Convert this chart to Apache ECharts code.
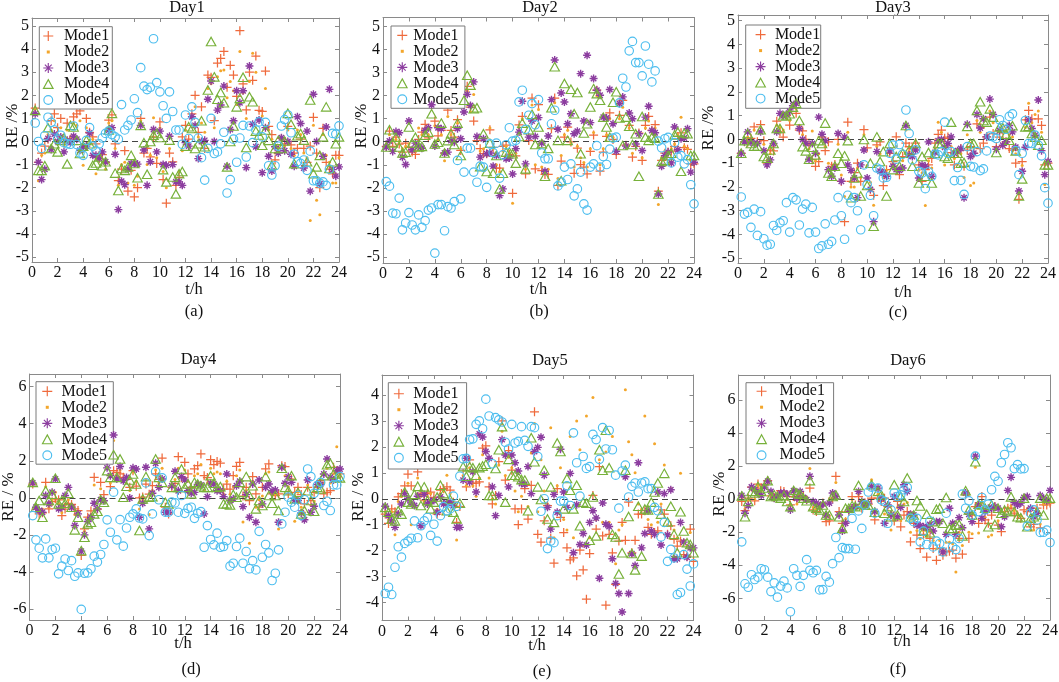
<!DOCTYPE html>
<html><head><meta charset="utf-8">
<script src="https://cdn.jsdelivr.net/npm/echarts@6/dist/echarts.min.js"></script>
<style>html,body{margin:0;padding:0;background:#fff}#c{width:1059px;height:682px}</style>
</head><body><div id="c"></div>
<script>
// ---------- data ----------
const modeNames = ['Mode1','Mode2','Mode3','Mode4','Mode5'];
const dayTitles = ['Day1','Day2','Day3','Day4','Day5','Day6'];
const captionLabels = ['(a)','(b)','(c)','(d)','(e)','(f)'];
const yLabelTexts = ['RE /%','RE /%','RE /%','RE / %','RE / %','RE /%'];
const yTicksFive = [-5,-4,-3,-2,-1,0,1,2,3,4,5];
const yTicksSix = [-6,-4,-2,0,2,4,6];
const yTicksFour = [-4,-3,-2,-1,0,1,2,3,4];
const hours = [];
for (let k = 1; k <= 96; k++) hours.push(k / 4);   // 15-min sampling, t/h

const d1m1 = [1.45,-0.9,-0.5,-0.2,0.1,0.9,1.2,0.6,1.0,-0.05,0.8,0.1,1.07,1.2,1.33,-0.3,1.0,0.4,0.2,-0.1,-0.75,-0.57,-0.9,0.93,1.15,-0.1,-1.7,-1.2,-0.4,-2.15,-1.25,-2.4,-2.0,1.0,-0.5,-0.3,-0.67,0.2,-0.95,0.85,-1.65,-2.67,-0.5,-0.88,-1.9,-1.55,0.2,0.7,0.1,1.2,2.0,0.4,1.5,-0.3,2.88,2.78,0.9,3.4,3.6,3.9,2.35,3.3,2.88,1.95,4.8,2.5,1.37,3.0,2.65,3.7,1.35,1.3,3.05,0.65,0.3,-0.8,-0.3,0.13,-0.1,0.65,-0.15,-0.5,-0.3,0.1,-0.3,-0.9,-0.2,1.05,-0.5,-2.0,0.57,-0.9,-1.2,-1.4,-0.6,-0.6];
const d1m2 = [1.4,-1.7,-0.6,-0.5,0.3,0.5,0.9,0.3,0.6,-0.2,0.5,0.2,0.8,0.7,0.9,-1.03,0.6,0.3,0.1,-1.4,-0.6,-0.5,-1.2,0.8,0.9,-0.3,-1.9,-1.0,-0.9,-1.8,-1.0,-1.9,-1.5,0.9,-0.4,-1.0,-0.6,1.03,-0.7,0.6,-1.3,-2.0,-0.3,-0.9,-1.7,-1.3,-0.4,0.5,-0.1,1.0,1.5,0.2,0.8,0.4,2.3,2.5,0.6,2.8,3.07,3.1,1.9,2.6,2.2,1.6,3.9,2.1,1.0,2.6,3.82,3.0,1.0,1.1,2.3,0.5,0.1,-0.5,-0.3,0.2,-0.2,0.5,-0.3,-0.6,0.5,0.3,-0.5,-0.7,-3.42,0.7,-2.55,-3.17,0.3,-0.6,-0.9,-1.8,-1.8,-0.7];
const d1m3 = [1.2,-0.9,-1.65,-1.2,0.13,-0.35,0.32,0.0,0.2,-0.45,0.05,-0.05,0.23,0.1,-0.38,-0.23,-0.2,0.37,-0.6,-0.6,-0.73,-0.45,-0.88,0.5,0.6,-0.55,-2.95,-1.72,-1.87,-1.2,-0.95,-0.95,-0.98,0.7,-0.37,-1.9,-0.88,0.52,-0.45,0.45,-1.0,-1.03,0.23,-1.0,-1.75,-1.75,-1.9,-0.05,-0.2,1.07,0.7,-0.74,0.0,0.05,1.83,2.62,0.0,1.36,1.58,2.4,-1.07,0.52,0.9,2.2,1.68,2.2,-1.13,3.27,0.75,-0.23,0.93,-1.35,0.6,-0.64,-1.28,-0.23,-0.5,0.16,-0.4,0.0,-0.55,-1.07,1.07,0.78,-1.15,0.45,-2.15,2.05,0.0,-1.83,-0.64,0.63,2.26,-1.22,-1.5,-1.1];
const d1m4 = [1.35,-1.25,-1.25,-1.05,0.6,-0.3,-0.1,-0.45,0.05,0.15,-0.97,0.7,0.63,0.05,-0.52,-0.2,0.05,-0.1,-1.03,-0.93,-0.67,-1.05,-0.88,0.5,1.22,-1.37,-2.12,-1.17,-1.25,-1.1,-0.6,-0.95,-1.57,0.7,-0.05,-1.42,0.0,0.27,0.35,0.17,-1.22,-1.75,0.06,-1.54,-2.27,-1.4,-1.3,-0.2,0.64,0.56,-0.3,-0.1,0.9,-0.23,2.23,4.33,2.8,1.83,2.12,1.68,-1.1,0.0,0.67,1.5,1.87,2.78,-0.26,1.94,1.72,0.45,0.28,-0.16,0.5,0.05,-1.03,-0.3,0.05,-0.3,0.02,1.22,0.75,-0.96,0.25,0.35,0.06,-0.88,1.8,-1.4,-1.1,-0.6,0.2,1.5,-1.17,-0.88,-0.1,0.2];
const d1m5 = [0.8,0.0,-0.3,0.25,1.05,0.83,0.5,0.1,0.27,-0.05,-0.1,-0.12,0.67,-0.13,-0.5,-0.6,0.05,0.6,-0.2,-0.4,-0.1,0.15,0.35,0.45,0.3,0.2,0.1,1.6,0.5,0.7,0.93,1.85,1.25,3.2,2.4,2.25,2.35,4.45,2.55,2.15,1.55,1.0,2.15,1.3,0.5,0.5,-0.12,1.15,0.13,1.5,0.83,0.15,-0.7,-1.67,-0.3,1.0,-0.52,-0.45,-0.1,0.4,-2.23,-1.65,0.1,-0.9,0.15,0.7,-0.67,0.67,-0.05,0.5,0.85,0.2,0.83,-1.05,-1.45,-1.05,-0.2,0.67,0.95,1.15,0.38,-0.55,-0.87,-0.95,-0.8,-1.25,-0.42,-1.7,-1.7,-1.8,-1.75,-1.9,-1.2,0.35,0.32,0.68];

const d2m1 = [-0.2,0.46,-0.2,0.2,-0.1,-0.45,-0.06,-0.25,-0.45,-0.55,0.1,0.42,0.76,0.17,1.83,0.9,0.25,0.49,-0.49,1.37,0.49,0.2,0.96,-0.38,2.24,2.41,1.51,0.9,0.05,-0.3,-0.52,-0.52,0.52,-0.25,-1.15,-1.15,-0.2,-0.15,-0.55,-2.24,-0.61,0.73,1.1,-1.4,0.05,1.9,-1.18,1.61,-1.25,-1.42,-1.42,0.57,1.9,-1.9,-0.84,0.2,0.64,-0.01,-1.37,-0.28,-0.99,-1.1,-1.4,-0.42,0.29,2.24,-1.28,-0.45,0.23,1.25,0.1,-0.55,1.15,1.8,-0.15,0.71,-0.67,-0.2,0.38,-0.81,0.71,1.1,0.49,0.74,-2.15,-0.81,-0.5,-0.45,-0.41,-0.2,0.23,0.39,-0.26,-0.33,-0.96,-0.96];
const d2m2 = [-0.1,0.3,0.1,0.1,0.0,-0.3,-0.2,-0.1,-0.3,-0.4,0.6,0.3,0.6,0.3,1.5,0.7,0.1,0.3,-0.83,1.1,0.3,0.1,0.8,-0.3,2.0,2.2,1.3,2.05,0.2,-0.4,-0.3,-0.6,0.6,-0.3,-1.0,-1.3,-0.4,-0.2,-0.5,-2.67,-0.5,0.6,1.0,-1.2,0.2,1.6,-1.0,1.4,-1.1,-1.3,-1.2,0.6,1.7,-1.6,-0.6,0.3,0.5,-0.1,-1.1,-0.2,-0.7,-0.9,-1.1,-0.3,0.4,2.0,-1.0,-0.3,0.3,1.0,0.2,-0.4,1.0,1.5,-0.1,0.6,-0.5,-0.1,0.3,-0.7,0.6,0.9,0.4,0.6,-2.73,-0.7,-0.4,-0.4,-0.3,-0.1,0.3,1.07,-0.2,-0.3,-0.8,-0.8];
const d2m3 = [-0.23,0.03,-0.42,0.44,0.39,-0.67,-0.99,0.9,-0.35,-0.06,-0.2,-0.28,0.49,0.61,1.61,-0.19,0.61,0.57,-0.49,-0.45,0.05,-0.02,0.57,0.13,1.29,2.06,1.58,2.6,0.23,-0.67,0.13,-0.52,-0.49,-1.06,-0.6,-2.34,-2.05,-0.74,-0.71,-1.4,-0.3,0.42,1.76,-0.96,0.2,0.9,0.23,1.05,-0.06,-1.28,0.25,1.83,3.55,0.54,2.12,1.73,0.78,1.22,0.35,0.46,2.96,0.9,3.76,0.83,2.75,2.24,2.02,1.07,1.03,2.27,0.78,-0.41,1.66,1.95,-0.19,1.25,1.0,-0.1,0.35,-0.38,1.07,1.54,0.49,0.39,-2.27,-1.07,-0.61,-0.45,-0.92,0.64,-0.35,0.13,0.16,0.57,-1.32,-0.89];
const d2m4 = [-0.23,0.52,-0.05,0.2,-0.23,-0.49,-0.45,0.64,-0.05,0.2,-0.23,-0.2,0.28,0.42,1.22,-0.1,-0.02,0.81,-0.49,0.05,0.35,-0.12,0.81,-0.6,1.8,2.89,2.46,1.44,1.48,-1.08,0.35,-1.29,-0.06,-1.37,-0.6,-2.05,-1.37,-0.45,-0.45,-0.52,-0.93,0.23,0.81,-1.18,0.52,1.19,-0.12,0.64,-0.08,-1.5,-0.29,1.48,3.26,0.06,-1.69,2.53,0.06,2.28,1.22,2.14,-0.52,0.38,0.78,1.51,2.31,2.09,1.8,1.07,0.64,0.2,1.72,2.17,1.03,-0.16,1.07,0.67,-0.12,0.35,-1.5,1.1,0.2,0.06,0.2,0.15,-2.27,-0.86,-0.81,-0.6,-0.5,0.3,0.42,-1.28,0.38,0.35,-0.6,-0.6];
const d2m5 = [-1.73,-1.93,-3.1,-3.13,-2.45,-3.83,-3.53,-3.08,-3.62,-3.83,-3.18,-3.72,-3.43,-2.97,-2.88,-4.84,-2.73,-2.73,-3.87,-2.82,-2.88,-2.6,-0.81,-2.48,-1.32,-0.28,-0.28,-1.32,-1.76,-1.06,-1.1,-1.98,-0.09,-0.47,-0.06,-1.58,-0.57,-0.13,0.61,0.03,0.06,1.73,2.24,0.54,1.15,1.66,0.74,1.83,-0.49,-0.74,-0.74,0.78,1.37,-1.92,-1.76,-1.1,-1.64,-0.96,-2.35,-2.05,-1.32,-2.7,-2.97,-1.1,-0.96,-0.17,-1.1,-0.64,-0.99,-0.32,0.16,0.2,1.69,2.76,2.38,3.95,4.36,3.44,3.44,2.86,4.16,3.37,2.6,3.08,0.03,-0.26,0.13,0.19,-0.92,-0.04,-0.67,-0.6,-0.96,-0.78,-1.87,-2.7];

const d3m1 = [-0.58,-0.1,-0.12,0.05,0.53,-0.1,0.62,-0.05,-1.0,-0.45,-0.48,0.77,0.32,0.1,1.0,0.6,1.63,1.1,0.39,0.36,0.0,-0.23,-0.85,-1.13,-0.93,0.1,-0.47,-0.1,-1.13,-1.05,0.0,-1.76,-3.46,0.73,-1.76,-1.4,-1.0,-1.76,0.41,-0.35,-2.1,-2.35,-0.23,-0.1,-1.94,-1.27,-0.58,-0.93,0.11,-1.48,-0.72,-0.15,-0.3,-0.38,-0.15,-1.07,-1.76,-1.27,-1.07,-0.8,-0.15,0.21,0.39,0.05,0.1,-0.55,-1.07,-0.58,-0.38,-1.13,-0.45,-0.3,-0.58,0.66,-0.38,-0.15,0.11,0.94,0.25,-0.3,0.1,0.39,-0.1,-0.38,-0.45,-1.0,-2.52,-0.93,0.83,1.22,0.87,0.1,0.87,0.59,-1.07,-1.0];
const d3m2 = [-0.5,-0.1,0.1,0.0,0.4,-0.1,0.5,-0.2,-0.9,-0.6,-0.3,0.6,0.5,0.4,0.9,0.8,1.4,1.3,0.6,0.2,-0.1,-0.4,0.36,-0.9,-0.6,0.1,-0.3,-1.0,-1.2,-1.1,-0.2,-1.5,-2.4,0.3,-2.0,-2.0,-1.2,-1.6,0.2,-1.1,-1.8,-2.77,-0.3,-0.6,-1.6,-1.3,-0.5,-1.0,-0.3,-1.2,-0.9,0.4,-0.5,-0.6,-0.3,-1.3,-1.4,-2.78,-0.9,-1.2,-0.4,0.73,0.3,-1.07,-0.2,-0.3,-0.8,-0.5,-0.6,-1.6,0.2,-1.94,-1.83,0.8,0.3,0.5,0.2,1.2,0.7,-0.4,0.3,0.3,-0.2,0.2,0.1,-0.6,-2.3,-1.1,0.5,1.52,0.7,1.05,1.2,0.3,-1.9,-1.0];
const d3m3 = [-0.58,-0.1,0.32,-0.12,-0.17,-0.17,0.32,-0.47,-1.07,-0.86,-0.17,0.32,1.1,1.0,1.05,1.19,1.42,1.52,0.46,0.0,-0.17,-0.83,-0.17,-0.58,0.94,0.22,-0.05,-1.27,-1.55,-1.2,0.25,-1.76,0.1,-1.07,-1.3,-1.62,-2.45,-1.07,-0.44,-1.62,-2.1,-3.46,-0.51,-1.34,-1.41,-1.55,-0.48,-1.13,-1.27,-1.3,-1.2,0.59,-0.65,-0.72,-0.44,-1.62,-1.07,-1.13,-0.1,-1.55,-0.55,-0.05,0.0,-0.33,-0.17,0.11,-0.58,-0.47,-0.38,-2.45,0.64,-0.72,-0.58,1.05,0.48,0.87,0.11,1.7,1.05,-0.41,0.38,-0.24,-0.1,0.59,0.32,-0.33,-2.17,-1.34,-0.33,0.83,0.46,0.18,1.66,-0.47,-1.48,-0.93];
const d3m4 = [-0.58,-0.05,0.25,-0.17,-0.28,-0.28,0.41,-0.72,-0.79,-0.44,-0.17,0.46,0.46,1.0,1.0,1.08,1.36,1.52,0.8,-0.3,-0.48,-0.83,-0.33,-0.65,-0.05,-0.17,0.69,-1.41,-1.55,-1.13,-0.58,-1.0,-0.69,-0.05,-2.45,-1.62,-1.41,-2.38,0.0,-1.94,-1.0,-3.65,0.11,-0.93,-0.51,-2.38,-0.17,-1.27,-0.72,-1.13,-0.58,0.59,-0.44,-1.13,-0.17,-1.83,-0.72,-1.55,-0.55,-1.83,-0.58,-0.17,-0.17,-0.72,-0.79,0.73,-0.58,-0.58,-1.0,-0.97,0.55,-0.17,-0.17,1.22,1.59,0.8,0.73,1.29,0.94,-0.55,0.53,0.49,0.22,-0.03,0.58,-0.48,-2.38,-1.66,0.53,0.55,0.25,0.1,-0.24,-0.03,-1.07,-1.07];
const d3m5 = [-2.42,-3.14,-3.07,-3.7,-2.93,-4.04,-3.04,-4.18,-4.45,-4.41,-3.62,-3.83,-3.51,-3.42,-2.66,-3.9,-2.45,-2.54,-3.6,-2.93,-2.72,-3.93,-2.86,-3.9,-4.59,-4.48,-3.55,-4.41,-4.29,-3.39,-2.45,-3.21,-4.2,-2.35,-2.66,-2.45,-3.0,-3.8,-1.07,-1.9,-2.35,-3.21,-1.2,-1.27,-1.62,-1.59,-0.58,-0.24,-0.83,-0.21,-0.62,1.24,0.25,-0.86,-0.44,-1.34,-1.41,-2.07,-1.37,-1.55,-0.62,-0.65,-0.51,0.73,-0.58,-0.51,-1.73,-1.18,-1.72,-2.31,-0.3,-1.13,-1.16,-0.51,-1.31,-1.24,-0.48,0.14,0.11,0.04,0.83,0.59,0.43,0.97,1.08,-0.47,-1.48,-0.58,0.8,-0.17,-0.17,0.18,-0.24,-0.69,-2.03,-2.68];

const d4m1 = [0.75,-0.6,-0.86,-0.8,0.84,-0.59,-0.2,-0.05,-0.1,-0.95,-0.6,-0.3,-0.35,-0.59,-0.68,-3.1,-1.67,-1.04,-0.7,1.11,-0.6,0.84,0.18,2.1,0.61,1.47,1.38,1.3,1.11,1.0,0.57,1.47,0.63,0.0,0.05,0.75,0.2,0.66,1.29,1.0,2.15,-0.5,-0.86,0.57,0.79,2.22,1.1,1.92,1.29,0.57,1.56,1.74,2.37,1.2,1.1,2.06,1.79,1.97,1.88,0.48,0.75,0.48,1.2,1.7,1.92,0.1,0.57,-0.15,1.15,0.22,-0.5,0.57,1.56,1.83,0.22,0.12,0.22,1.74,1.69,0.22,1.02,0.3,0.57,0.18,-0.32,0.57,-0.15,0.3,0.57,0.93,0.22,0.3,0.39,1.65,1.47,1.29];
const d4m2 = [0.7,-0.5,-0.7,-0.6,0.6,-0.5,-0.1,0.3,-0.3,-0.8,-0.4,-0.1,-0.4,-0.9,-0.8,-2.9,-1.8,-1.1,-0.9,0.7,-0.6,0.5,-0.1,2.0,0.8,3.09,1.2,1.5,1.0,1.0,0.4,1.4,0.9,-0.6,-0.1,1.0,-0.9,0.4,1.5,0.8,1.6,-0.6,-0.8,0.6,1.0,1.6,1.2,1.5,0.9,0.4,1.2,1.3,1.8,0.4,0.8,1.6,1.3,1.4,1.3,0.2,0.9,0.2,0.6,1.2,1.5,-1.3,0.4,-2.44,0.9,-0.5,-0.1,0.1,1.3,1.4,0.3,0.2,-1.67,1.7,1.2,0.6,1.0,-1.26,0.3,-0.5,-0.8,0.7,-0.4,-0.2,0.6,0.8,0.8,1.6,0.8,1.3,2.76,1.4];
const d4m3 = [0.81,-0.5,-0.68,-0.77,0.13,-0.32,0.31,1.02,-0.59,-0.5,0.13,0.57,-0.5,-1.49,-0.86,-2.87,-1.99,-1.27,-1.04,-0.29,-0.59,-0.1,-0.15,1.62,1.2,3.39,1.02,1.69,0.93,1.1,0.0,1.62,1.56,-1.04,-0.29,1.65,-1.67,0.25,1.87,0.57,1.02,-0.77,-0.77,0.65,1.44,0.39,1.15,0.97,0.39,0.25,0.3,0.72,0.7,-0.86,0.07,0.79,0.75,0.39,0.4,0.07,1.29,-0.14,-0.05,0.66,0.9,-0.47,0.18,-1.04,0.75,-1.31,0.97,-0.32,0.57,0.75,0.39,0.43,-1.31,1.65,0.79,1.15,0.84,-0.14,-0.14,-0.81,-1.18,0.97,-0.77,-0.45,0.72,0.72,1.29,2.1,1.11,0.97,1.47,1.56];
const d4m4 = [0.84,-0.5,-0.14,-1.04,0.39,-0.14,0.2,1.06,-0.32,-0.14,-0.29,0.25,-0.5,-1.72,-1.04,-2.84,-2.12,-1.4,-1.31,-0.86,-0.72,-0.1,-0.23,1.47,1.11,2.33,1.11,2.1,0.04,0.63,0.97,1.29,0.75,-1.76,-0.05,1.15,0.04,0.07,2.1,1.11,0.84,-0.23,-0.32,0.57,1.11,0.57,1.56,0.57,0.75,0.22,0.84,0.75,0.66,0.57,0.57,1.2,0.79,0.57,0.61,-0.32,-0.32,-0.38,0.18,0.04,0.84,0.3,1.15,0.13,0.66,-0.59,-0.14,-0.41,1.15,0.13,-0.29,0.13,-0.68,1.6,0.57,0.39,1.2,-0.05,0.3,-0.86,-0.68,0.39,-0.14,-0.72,0.57,0.48,1.2,1.79,1.87,1.29,1.11,1.08];
const d4m5 = [-0.95,-2.26,-2.71,-3.23,-2.21,-3.23,-2.78,-2.71,-4.09,-3.68,-3.29,-3.91,-3.38,-4.22,-4.04,-6.01,-4.06,-4.04,-3.82,-3.14,-3.46,-3.05,-2.51,-1.18,-1.85,0.31,-2.26,-1.17,-2.6,-1.62,-1.04,-0.86,-0.59,-1.08,-1.13,0.81,-2.03,-0.86,1.42,-0.1,1.08,-0.77,-0.77,-0.23,-0.27,-0.77,0.13,-0.83,-0.56,-0.5,-1.1,-0.83,-0.74,-2.66,-1.49,-2.24,-2.53,-1.9,-2.66,-2.62,-2.3,-3.68,-3.52,-2.62,-2.17,-3.52,-2.89,-3.82,-3.38,-3.88,-1.8,-3.2,-2.51,-2.96,-4.45,-4.06,-2.8,-1.4,-0.77,0.04,-0.23,-0.5,0.13,-0.95,-0.1,1.56,1.15,0.25,0.66,0.84,-0.41,-0.18,-0.68,0.7,0.7,1.15];

const d5m1 = [-0.59,-0.95,-0.39,-0.5,0.07,0.2,0.5,0.95,0.5,1.56,1.04,0.22,-0.05,0.2,0.26,0.05,-0.59,0.33,0.39,0.46,0.33,-0.13,-0.91,-0.3,1.17,0.46,1.5,0.59,0.6,0.65,1.95,2.04,0.46,-0.2,0.13,1.43,3.0,0.72,1.86,1.1,-0.39,-1.0,-0.39,0.39,-0.78,0.52,3.35,-1.37,-1.67,-0.85,-0.26,-1.52,-2.48,0.39,-0.72,-1.3,-1.89,-2.35,-2.28,-2.97,-1.98,-2.74,-3.87,-2.11,0.13,-1.17,1.24,-1.43,-4.1,-1.37,-2.08,-3.3,-1.63,-0.91,-1.6,-0.13,-2.08,-1.6,-0.59,-0.59,-0.46,-1.1,-1.37,-1.3,-1.24,-0.43,-0.59,-1.37,-1.04,-1.56,-1.82,-1.63,-2.15,-2.21,-1.17,-2.41];
const d5m2 = [-0.5,-0.8,-0.5,-1.39,-0.1,0.1,0.3,0.6,-1.0,1.2,0.8,0.1,-0.1,0.1,0.2,0.0,-0.4,0.2,0.3,0.91,0.2,-0.2,-1.59,-0.3,0.9,0.5,1.2,0.5,0.1,0.8,1.7,1.8,0.8,0.0,-0.2,1.3,2.6,0.9,1.6,1.2,0.3,-0.5,0.1,0.5,-0.3,1.76,2.9,-0.5,1.5,0.3,-0.2,2.74,-1.5,0.5,1.2,-0.8,-1.2,2.4,-1.5,3.0,1.89,-1.8,3.19,-1.5,3.9,-0.8,1.5,-0.9,1.8,-0.9,2.4,-2.5,-1.2,-1.0,4.2,2.2,1.7,1.0,-0.2,-0.4,3.19,-0.8,-1.0,2.12,-0.9,-0.2,1.3,-1.0,0.4,-1.2,-1.5,0.98,-1.6,-1.8,-1.3,-1.9];
const d5m3 = [-0.29,-0.65,-0.85,-1.1,-0.59,-0.2,0.2,0.0,-0.16,-0.26,0.1,-1.04,0.17,-0.2,-0.1,-0.07,-0.52,0.07,-0.2,-0.16,-0.13,-0.26,-1.1,-1.1,0.72,1.56,0.65,1.04,0.26,2.5,2.38,1.82,1.56,0.46,-0.65,0.13,2.28,1.69,0.46,1.69,1.39,1.07,0.59,0.56,1.24,0.2,1.82,1.98,2.37,0.91,-0.33,-1.17,0.17,-0.52,1.91,0.26,-0.33,0.98,-2.08,-0.23,-1.76,-1.34,-1.78,-0.91,-0.46,-0.74,-3.06,-0.16,-0.98,-1.07,-2.31,-3.26,-3.65,-4.36,0.85,-3.65,-2.12,-2.57,1.39,-1.89,-1.34,-0.46,-1.24,-1.37,0.26,-1.78,0.2,-1.39,0.35,-2.31,-2.31,-0.91,-1.67,-2.25,-1.89,-1.89];
const d5m4 = [-0.33,-0.52,-0.78,-0.85,-0.46,-0.59,0.26,-0.13,-0.2,0.17,0.48,-0.26,0.46,-0.07,-0.39,-0.13,0.07,0.52,0.2,-0.46,-0.03,-0.52,-0.78,-0.17,1.24,0.87,1.24,1.2,0.91,1.2,1.26,1.33,0.13,0.13,1.17,1.89,2.78,-0.13,1.52,0.91,0.91,0.85,0.74,0.72,-0.46,2.35,1.43,0.46,-0.03,1.1,-0.78,0.46,-0.91,2.15,1.82,-0.39,0.78,0.33,-0.39,0.52,-1.04,-0.13,-0.17,-1.6,0.07,-1.43,1.89,1.1,2.64,1.2,-1.37,-1.47,-2.9,-2.08,1.1,-0.68,-2.11,-2.74,-0.29,-2.21,-0.39,-0.43,-0.13,0.26,0.61,-0.59,0.98,-0.89,-0.29,-1.37,-2.08,-0.5,-1.24,-1.69,-1.76,-2.08];
const d5m5 = [-3.65,-3.41,-3.69,-2.64,-1.85,-2.25,-1.72,-1.63,-1.52,-0.85,-1.5,-1.04,-0.85,-0.72,-1.41,-0.98,-1.63,-0.65,-0.3,-0.46,-0.39,0.1,-0.29,0.87,1.54,1.56,2.28,2.31,2.87,3.0,2.7,3.84,3.19,1.35,3.13,3.04,2.96,2.18,1.92,2.87,2.15,2.21,2.78,2.25,2.02,2.78,2.74,1.63,-0.48,0.0,-1.92,-1.63,-1.69,-0.65,-0.09,-0.09,0.5,-0.26,2.54,1.39,0.1,1.63,1.17,1.24,2.48,2.28,1.52,2.74,1.92,2.63,1.89,0.91,-0.36,1.07,1.3,0.07,0.48,0.61,0.26,0.61,0.65,0.39,0.39,-0.33,-0.46,-1.47,-0.91,-2.41,-1.95,-2.28,-3.69,-3.61,-2.15,-2.71,-3.36,-2.51];

const d6m1 = [-0.14,-0.7,0.06,0.73,-0.1,0.91,0.67,0.87,1.12,0.2,0.1,0.26,0.51,0.47,0.16,-0.35,0.16,-0.04,0.22,0.16,-0.04,0.67,-0.65,-0.75,-0.45,-0.24,-1.36,-1.32,0.06,1.38,-0.75,-1.46,-1.36,-0.75,0.16,-0.35,0.16,-0.55,-0.24,-0.3,0.06,-1.26,0.06,-0.14,0.06,-0.45,-0.96,-1.32,-0.14,-1.67,-0.96,-0.75,-2.58,-1.46,-2.17,-2.99,-2.13,-3.5,-2.38,-2.99,-3.7,-2.99,-3.39,-3.19,-3.15,-3.09,-3.56,-2.38,-3.33,0.26,-2.38,-0.96,-0.45,-1.46,0.16,-1.26,-1.46,-0.96,-0.45,-1.57,-1.97,-0.75,-0.55,-0.55,-0.85,-0.96,-1.16,-0.65,-0.75,-1.67,-1.53,-0.55,-1.73,-0.35,-0.35,-0.24];
const d6m2 = [0.1,-0.6,-0.1,0.6,0.0,0.8,0.5,0.7,1.0,0.3,0.1,0.2,0.4,0.4,0.2,-0.4,0.3,-0.3,0.3,0.1,-0.1,1.85,-0.5,-0.6,-0.4,-0.3,-1.1,-1.0,0.1,1.0,-0.8,-1.6,-1.2,-0.7,0.0,-0.4,0.3,-0.4,-0.3,-0.3,1.18,-1.0,0.3,-0.1,-0.9,-0.4,-1.87,-0.8,-0.5,-1.3,-0.3,-0.2,-2.0,-1.2,-1.9,-2.4,-1.9,-2.24,-2.0,-2.5,-3.0,-2.5,-3.0,-2.6,-2.6,-2.7,-4.41,-2.0,-2.8,0.3,-2.0,-2.1,1.93,-2.05,-0.2,-1.1,-2.28,-2.17,-0.6,-1.3,-1.7,-0.8,-0.5,-0.4,-0.7,-0.9,-1.0,0.2,-0.6,-1.4,-1.87,-0.6,-1.5,-0.3,-0.3,-0.2];
const d6m3 = [0.22,-0.85,-0.39,0.73,0.57,0.37,0.22,0.73,1.08,0.47,0.06,0.16,0.37,0.37,0.3,-0.65,0.51,0.06,0.47,0.1,-0.04,1.38,-0.14,-0.24,-0.45,-0.3,-0.96,-0.24,0.37,0.16,-0.96,-1.93,-1.46,-0.65,-0.55,-0.45,0.47,-0.14,-0.35,-0.24,0.77,-0.75,0.67,0.06,-1.46,-0.35,-0.96,0.16,-1.06,-0.49,0.87,0.47,-0.91,-0.96,-1.57,-1.61,-1.67,-1.71,-1.53,-1.93,-1.36,-1.36,-3.19,-2.13,-0.55,-1.46,-2.13,-1.12,-1.73,0.37,-0.91,-1.36,2.6,-0.35,-1.16,-0.75,-0.55,-0.55,-0.45,-0.55,-1.67,-1.06,0.53,1.32,-0.2,-0.35,-0.24,0.1,0.16,-0.55,-1.06,-0.85,0.22,0.06,-0.1,0.53];
const d6m4 = [0.2,-1.06,-0.14,0.47,0.37,0.77,0.47,0.67,1.12,0.16,0.26,0.16,0.06,0.22,-0.14,-0.45,0.53,0.37,0.3,0.06,-0.1,1.12,-0.45,-0.55,-0.65,-0.35,-0.96,-0.96,0.16,0.26,-1.06,-1.77,-0.55,-0.55,-0.39,-0.45,0.83,-0.24,-0.35,-0.35,0.87,-0.79,0.47,0.26,-0.85,-0.45,-1.06,0.87,-0.96,0.16,-0.14,1.28,-1.06,-0.96,-0.08,-0.41,-1.93,-0.91,-2.03,-1.36,-0.61,-0.55,-1.46,0.1,-1.77,-1.77,-1.57,-1.53,-2.22,0.51,-0.65,-0.96,2.26,-0.3,-0.35,-0.55,-1.67,-0.35,-1.53,-0.55,-0.85,-0.65,-0.75,0.14,-0.75,-1.06,-1.12,0.06,-1.67,-1.16,-1.06,-0.75,0.06,-0.96,0.06,0.06];
const d6m5 = [-2.58,-5.12,-5.33,-4.57,-4.86,-4.72,-4.21,-4.27,-4.72,-5.59,-5.06,-5.93,-5.26,-4.96,-5.37,-6.81,-4.21,-4.61,-5.28,-4.61,-3.66,-4.31,-4.45,-4.31,-5.49,-5.47,-4.67,-5.02,-3.9,-2.32,-3.54,-2.93,-2.99,-2.99,-1.16,-3.03,-0.71,-1.77,-0.35,0.43,0.73,-0.85,0.67,-0.04,-0.14,-1.46,-0.65,0.37,0.16,0.26,0.57,0.71,-1.16,-1.36,-1.16,-2.58,-1.93,-2.74,-1.32,-2.89,-2.54,-2.68,-3.19,-0.85,-2.42,-2.89,-3.05,-2.38,0.3,-0.55,-0.1,-0.96,2.6,-0.75,0.1,-0.65,-0.3,0.57,1.38,1.08,2.2,2.7,3.41,3.11,1.85,2.09,1.83,1.85,-1.63,-0.85,-0.65,-1.26,-2.01,-2.0,-1.87,-2.62];

const dayData = [
  [d1m1,d1m2,d1m3,d1m4,d1m5],
  [d2m1,d2m2,d2m3,d2m4,d2m5],
  [d3m1,d3m2,d3m3,d3m4,d3m5],
  [d4m1,d4m2,d4m3,d4m4,d4m5],
  [d5m1,d5m2,d5m3,d5m4,d5m5],
  [d6m1,d6m2,d6m3,d6m4,d6m5]
];

// ---------- layout (pixels) ----------
const layout = [
  {g:[32,18,307,244],   y:[-5.22,5.35], ticks:yTicksFive, lg:[39.3,26.7,3.4,15.6,3.1,13.8,1.3,1.0], t:[187,8],   c:[194,312], xl:[194,290],   yl:[12.5,126]},
  {g:[383,17.5,311,245.5], y:[-5.27,5.4], ticks:yTicksFive, lg:[391,26,5.7,11,6.3,13.8,1.3,1.0],   t:[540,8],   c:[539,312], xl:[538.5,290], yl:[361.7,126]},
  {g:[738,15,310,248],  y:[-5.2,5.24],  ticks:yTicksFive, lg:[745.7,25,9.3,14.3,0.5,13.8,1.6,1.7], t:[893,8],   c:[898,313], xl:[903,293],   yl:[708.5,128]},
  {g:[29.5,374,310.5,246], y:[-6.58,6.68], ticks:yTicksSix, lg:[36,381.7,5.7,14.3,6.4,13.3,1.6,0.9], t:[198.5,360], c:[191,670], xl:[183,644],   yl:[9,497]},
  {g:[382,375,311.5,245.5], y:[-4.69,4.77], ticks:yTicksFour, lg:[388.3,382.7,5,14.4,8,13.2,3,3.3], t:[550,361], c:[542,672], xl:[537,645.5], yl:[359,497]},
  {g:[738.5,375,311.5,245], y:[-7.31,7.51], ticks:yTicksSix, lg:[746,382.7,10,18,8.7,14.6,0.5,0.5], t:[908,361], c:[898,670], xl:[902,642],   yl:[720,494]}
];

const FONT = '"Liberation Serif", "Times New Roman", serif';
const AX = '#8a8a8a';
const COLORS = ['#EF6A3C','#F3A62B','#8C3D9F','#77B13A','#4DBEEF'];
const PLUS = 'M0,5L10,5M5,0L5,10';
const STAR = 'M5,0L5,10M0,5L10,5M1.6,1.6L8.4,8.4M8.4,1.6L1.6,8.4';
const DOT = 'M3.5,3.5L6.5,3.5L6.5,6.5L3.5,6.5Z';
const TRI = 'M5,0.6L9.8,9.4L0.2,9.4Z';
const CIRC = 'M0.6,5A4.4,4.4,0,1,1,9.4,5A4.4,4.4,0,1,1,0.6,5Z';
const legendBodies = [PLUS, DOT, STAR, TRI, CIRC];
const markDefs = [
  {sym:'path://' + PLUS, size:9,   fill:COLORS[0],        stroke:COLORS[0], bw:1.25},
  {sym:'circle',         size:3,   fill:COLORS[1],        stroke:COLORS[1], bw:0},
  {sym:'path://' + STAR, size:8,   fill:COLORS[2],        stroke:COLORS[2], bw:1.4},
  {sym:'triangle',       size:[9.5,8.5], fill:'rgba(0,0,0,0)', stroke:COLORS[3], bw:1.15},
  {sym:'circle',         size:8.5, fill:'rgba(0,0,0,0)',  stroke:COLORS[4], bw:1.15}
];

const grid = [], xAxis = [], yAxis = [], series = [], legend = [], graphic = [];
const txt = (s, x, y, size, rot) => ({
  type:'text', x:x, y:y, rotation: rot || 0, silent:true,
  style:{text:s, font: size + 'px ' + FONT, fill:'#111',
         align:'center', verticalAlign:'middle', textAlign:'center', textVerticalAlign:'middle'}
});

layout.forEach((p, i) => {
  grid.push({left:p.g[0], top:p.g[1], width:p.g[2], height:p.g[3], containLabel:false, outerBoundsMode:'none'});
  const xBase = {type:'value', gridIndex:i, min:0, max:24, interval:2, splitLine:{show:false},
    axisLine:{show:true, onZero:false, lineStyle:{color:AX, width:1}},
    axisTick:{show:true, inside:true, length:4, lineStyle:{color:AX}}};
  xAxis.push(Object.assign({}, xBase, {position:'bottom',
    axisLabel:{show:true, margin:3, fontFamily:FONT, fontSize:16, color:'#111', showMinLabel:true, showMaxLabel:true}}));
  xAxis.push(Object.assign({}, xBase, {position:'top', axisLabel:{show:false}}));
  const yBase = {type:'value', gridIndex:i, min:p.y[0], max:p.y[1], splitLine:{show:false},
    axisLine:{show:true, onZero:false, lineStyle:{color:AX, width:1}},
    axisTick:{show:true, inside:true, length:4, lineStyle:{color:AX}, customValues:p.ticks}};
  yAxis.push(Object.assign({}, yBase, {position:'left',
    axisLabel:{show:true, margin:3, fontFamily:FONT, fontSize:16, color:'#111', customValues:p.ticks}}));
  yAxis.push(Object.assign({}, yBase, {position:'right', axisLabel:{show:false}}));

  dayData[i].forEach((vals, m) => {
    const d = markDefs[m];
    const s = {
      type:'scatter', name:modeNames[m], xAxisIndex:2*i, yAxisIndex:2*i,
      data: vals.map((v, j) => [hours[j], v]),
      symbol:d.sym, symbolSize:d.size, silent:true, z:2 + m,
      itemStyle:{color:d.fill, borderColor:d.stroke, borderWidth:d.bw, opacity:1},
      emphasis:{disabled:true}
    };
    if (m === 0) {
      s.markLine = {silent:true, symbol:['none','none'], label:{show:false}, animation:false,
        lineStyle:{type:[6,4], color:'#444', width:1}, emphasis:{disabled:true},
        data:[{yAxis:0}]};
    }
    series.push(s);
  });

  const L = p.lg;
  legend.push({
    left:L[0], top:L[1], orient:'vertical', padding:[L[6], L[4], L[7], L[2]],
    itemGap:0, itemWidth:L[3], itemHeight:10, symbolKeepAspect:true, selectedMode:false,
    backgroundColor:'#fff', borderColor:'#7a7a7a', borderWidth:1, borderRadius:0,
    textStyle:{fontFamily:FONT, fontSize:16, color:'#111', lineHeight:L[5]},
    itemStyle:{borderWidth:1.15},
    data: modeNames.map((n, m) => {
      const o = {name:n, icon:'path://M0,0M' + L[3] + ',10' + legendBodies[m]};
      if (m === 1) o.itemStyle = {borderWidth:0};
      return o;
    })
  });

  graphic.push(txt(dayTitles[i], p.t[0], p.t[1], 16.5));
  graphic.push(txt(captionLabels[i], p.c[0], p.c[1], 16.5));
  graphic.push(txt('t/h', p.xl[0], p.xl[1], 16.5));
  graphic.push(txt(yLabelTexts[i], p.yl[0], p.yl[1], 17, Math.PI / 2));
});

const chart = echarts.init(document.getElementById('c'), null, {renderer:'canvas'});
chart.setOption({
  animation:false, backgroundColor:'#fff',
  grid:grid, xAxis:xAxis, yAxis:yAxis, series:series, legend:legend, graphic:graphic
});
</script>
</body></html>
